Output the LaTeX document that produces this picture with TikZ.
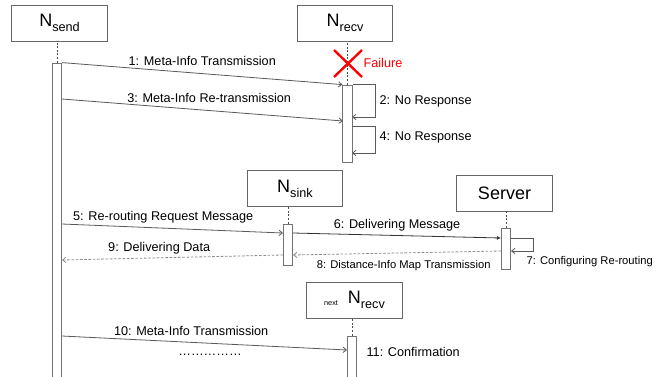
\documentclass[tikz,border=0pt]{standalone}
\usepackage{fontspec}
\setmainfont{Liberation Sans}
\usetikzlibrary{positioning,calc,arrows.meta}

\newcommand{\actsub}[1]{\raisebox{-3.6pt}{\fontsize{9.5}{10}\selectfont #1}}

\tikzset{
	actor/.style={draw=black!60, line width=0.6pt, minimum width=71.5pt, minimum height=27pt, inner sep=0pt, font=\fontsize{13.5}{15}\selectfont},
	actbar/.style={draw=black!55, fill=white, line width=0.6pt, minimum width=7pt, inner sep=0pt},
	life/.style={draw=black!70, line width=0.4pt, dash pattern=on 1.5pt off 1.2pt},
	msg/.style={draw=black!65, line width=0.6pt, ->},
	reply/.style={draw=black!45, line width=0.6pt, dash pattern=on 2pt off 1.2pt, ->},
	lbl/.style={font=\fontsize{9.5}{11}\selectfont, inner sep=1pt},
	smalllbl/.style={font=\fontsize{8.4}{10}\selectfont, inner sep=1pt}
}

\begin{document}
\begin{tikzpicture}[x=0.75pt,y=-0.75pt,>={Straight Barb[length=2.5pt,width=4pt]}]
	\useasboundingbox (0,0) rectangle (671,376);
	\clip (0,0) rectangle (671,376);
	
	% participants
	\node[actor] (send) at (59.5,23) {N\actsub{send}};
	\node[actor] (recv) at (345,23) {N\actsub{recv}};
	\node[actor] (sink) at (295,188.5) {N\actsub{sink}};
	\node[actor] (server) at (504.5,193) {Server};
	\node[actor] (nextrecv) at (354.5,300) {\raisebox{-1pt}{\fontsize{5.5}{6}\selectfont next}\;\;N\actsub{recv}};
	
	% activation bars
	\node[actbar, minimum height=237pt] (sendbar) at (57,221) {};
	\node[actbar, minimum height=57.75pt] (recvbar) at (347.5,123.5) {};
	\node[actbar, minimum height=30.75pt] (sinkbar) at (288,244.5) {};
	\node[actbar, minimum height=30.75pt] (serverbar) at (506,248.5) {};
	\node[actbar, minimum height=31.5pt] (nextbar) at (352,357) {};
	
	% lifelines
	\draw[life] (sendbar.north) -- (sendbar.north |- send.south);
	\draw[life] (recvbar.north) -- (recvbar.north |- recv.south);
	\draw[life] (sinkbar.north) -- (sinkbar.north |- sink.south);
	\draw[life] (serverbar.north) -- (serverbar.north |- server.south);
	\draw[life] (nextbar.north) -- (nextbar.north |- nextrecv.south);
	
	% failure of N_recv
	\coordinate (fail) at (348,63.5);
	\draw[red, line width=1.8pt] ($(fail)+(-14,-13.5)$) -- ($(fail)+(14,13.5)$)
	($(fail)+(14,-13.5)$) -- ($(fail)+(-14,13.5)$);
	\node[lbl, red, anchor=west] (failtxt) at (362,63) {Failure};
	
	% message ends
	\coordinate (m3s) at (62,99);
	\coordinate (m3e) at (343,121);
	\coordinate (m5s) at (62,224);
	\coordinate (m5e) at (283,233);
	\coordinate (m6s) at (293,233);
	\coordinate (m6e) at (501,238);
	\coordinate (m8s) at (501,251);
	\coordinate (m8e) at (293,255);
	\coordinate (m9s) at (283,255);
	\coordinate (m9e) at (62,260);
	\coordinate (m10s) at (62,336);
	\coordinate (m10e) at (347,350);
	
	% messages
	\draw[msg] (sendbar.north east) -- (recvbar.north west)
	node[lbl, midway, above=4.5pt] {1: Meta-Info Transmission};
	\draw[msg] (m3s) -- (m3e)
	node[lbl, midway, above=4.5pt, xshift=5pt] {3: Meta-Info Re-transmission};
	\draw[msg] (m5s) -- (m5e)
	node[lbl, midway, above=3pt, xshift=-7pt] {5: Re-routing Request Message};
	\draw[msg, draw=black!80, -{Latex[length=3pt,width=3pt]}] (m6s) -- (m6e)
	node[lbl, midway, above=2pt] {6: Delivering Message};
	\draw[reply] (m8s) -- (m8e)
	node[smalllbl, midway, below=4pt, xshift=5pt] {8: Distance-Info Map Transmission};
	\draw[reply] (m9s) -- (m9e)
	node[lbl, midway, above=1.5pt, xshift=-10pt] {9: Delivering Data};
	\draw[msg] (m10s) -- (m10e)
	node[lbl, midway, above=4pt, xshift=-10pt] {10: Meta-Info Transmission};
	\node[lbl] (dots) at (210,355) {……………};
	
	% self messages
	\coordinate (s2e) at (352,117);
	\coordinate (s4s) at (352,126);
	\coordinate (s4e) at (352,153);
	\coordinate (s7s) at (511,238);
	\coordinate (s7e) at (511,251);
	\draw[msg] (recvbar.north east) -- ++(23,0) |- (s2e);
	\draw[msg] (s4s) -- ++(23,0) |- (s4e);
	\draw[msg] (s7s) -- ++(22,0) |- (s7e);
	\node[lbl, anchor=west] (l2) at (378,101) {2: No Response};
	\node[lbl, anchor=west] (l4) at (378,137) {4: No Response};
	\node[smalllbl, anchor=west] (l7) at (525,262) {7: Configuring Re-routing};
	\node[lbl, anchor=west] (l11) at (365,352) {11: Confirmation};
\end{tikzpicture}
\end{document}
